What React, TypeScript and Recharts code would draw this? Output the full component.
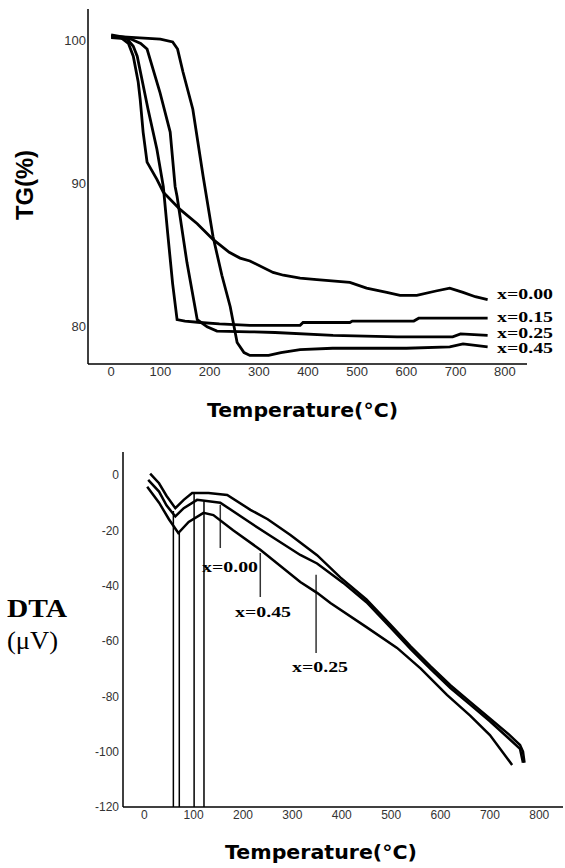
import { LineChart, Line, XAxis, YAxis, ReferenceLine } from 'recharts'

// TG curves (temperature °C, mass %)
const tg000T = [0, 20, 35, 45, 55, 59, 65, 73, 93, 106, 140, 175, 207, 240, 262, 282, 329, 350, 384, 418, 485, 519, 560, 587, 621, 660, 688, 715, 740, 765]
const tg000V = [100.3, 100.2, 99.8, 98.9, 97.1, 95.9, 93.6, 91.5, 90.3, 89.4, 88.2, 87.2, 86.1, 85.2, 84.8, 84.6, 83.8, 83.6, 83.4, 83.3, 83.1, 82.7, 82.4, 82.2, 82.2, 82.5, 82.7, 82.4, 82.1, 81.9]

const tg015T = [0, 30, 45, 53, 75, 93, 106, 115, 125, 134, 150, 181, 220, 282, 384, 390, 485, 490, 615, 625, 765]
const tg015V = [100.4, 100.2, 99.6, 98.9, 95.2, 92.4, 89.8, 86.5, 83, 80.5, 80.4, 80.3, 80.2, 80.1, 80.1, 80.3, 80.3, 80.4, 80.4, 80.6, 80.6]

const tg025T = [0, 40, 60, 73, 99, 120, 130, 134, 154, 175, 195, 215, 282, 333, 451, 581, 694, 710, 765]
const tg025V = [100.2, 100.1, 99.8, 99.4, 96.4, 93.6, 89.8, 89.1, 84.5, 80.5, 80.0, 79.7, 79.65, 79.6, 79.4, 79.3, 79.3, 79.5, 79.4]

const tg045T = [0, 50, 100, 125, 135, 146, 166, 187, 207, 225, 242, 256, 270, 282, 320, 345, 384, 450, 600, 688, 715, 765]
const tg045V = [100.3, 100.2, 100.1, 99.9, 99.4, 97.8, 95.2, 90.5, 86.3, 83.6, 81.4, 78.9, 78.2, 78.0, 78.0, 78.2, 78.4, 78.5, 78.5, 78.6, 78.8, 78.6]

// DTA curves (temperature °C, µV)
const dta000T = [12, 30, 45, 63, 80, 97, 130, 168, 215, 250, 296, 350, 397, 450, 498, 540, 579, 620, 660, 700, 740, 761, 767, 770]
const dta000V = [0.5, -3, -7.5, -12, -9, -6.5, -6.5, -7.2, -12.6, -16, -21.7, -29, -37, -45, -54, -62, -69, -76, -82, -88, -94, -97.6, -100, -104]

const dta045T = [8, 30, 45, 63, 80, 107, 154, 215, 260, 316, 350, 403, 450, 498, 540, 579, 620, 660, 700, 740, 761, 767]
const dta045V = [-1.8, -6, -11, -15, -12, -9, -10, -17.3, -22.5, -28.9, -32, -39, -46, -55, -63, -70, -77, -83, -89, -95.5, -99, -104]

const dta025T = [6, 30, 50, 69, 90, 120, 140, 180, 235, 316, 350, 377, 450, 512, 560, 613, 660, 700, 745]
const dta025V = [-4.3, -10, -16, -21, -17, -13.7, -14.5, -20, -27, -38.7, -42.6, -46.3, -55, -62.5, -70, -79.5, -87, -94, -104.8]

// peak markers and label pointers on the DTA plot
const peakT = [59, 71, 101, 121]
const peakV = [-13, -20.5, -6.3, -9.5]
const pointerT = [154, 235, 348]
const pointerTop = [-10.8, -28.2, -36.1]
const pointerBottom = [-26.4, -44.1, -64.3]

const tempTicks = [0, 100, 200, 300, 400, 500, 600, 700, 800]
const tgTicks = [80, 90, 100]
const dtaTicks = [-120, -100, -80, -60, -40, -20, 0]

const zip = (t: number[], v: number[]) => t.map((x, i) => ({ t: x, v: v[i] }))

const tgSeries = [
  { name: 'x=0.00', data: zip(tg000T, tg000V) },
  { name: 'x=0.15', data: zip(tg015T, tg015V) },
  { name: 'x=0.25', data: zip(tg025T, tg025V) },
  { name: 'x=0.45', data: zip(tg045T, tg045V) },
]
const dtaSeries = [
  { name: 'x=0.00', data: zip(dta000T, dta000V) },
  { name: 'x=0.45', data: zip(dta045T, dta045V) },
  { name: 'x=0.25', data: zip(dta025T, dta025V) },
]

const tickFont = { fontFamily: 'Liberation Sans, Arial, sans-serif', fill: '#333' }
const serifBold = { fontFamily: 'Liberation Serif, Times New Roman, serif', fontWeight: 700 }

export default function App() {
  return (
    <div style={{ position: 'absolute', left: 0, top: 0, width: 565, height: 868, background: '#fff' }}>
      <div style={{ position: 'absolute', left: 0, top: 0 }}>
        <LineChart width={565} height={430} margin={{ top: 9, right: 38, bottom: 36, left: 0 }}>
          <XAxis
            dataKey="t"
            type="number"
            domain={[-47, 845]}
            ticks={tempTicks}
            tickLine={false}
            tickSize={0}
            tickMargin={3}
            height={30}
            axisLine={{ stroke: '#000', strokeWidth: 1.5 }}
            tick={{ ...tickFont, fontSize: 13 }}
          />
          <YAxis
            type="number"
            domain={[77.4, 102.2]}
            ticks={tgTicks}
            tickLine={false}
            tickSize={0}
            tickMargin={2}
            width={88}
            axisLine={{ stroke: '#000', strokeWidth: 1.5 }}
            tick={{ ...tickFont, fontSize: 13 }}
          />
          {tgSeries.map((s) => (
            <Line
              key={s.name}
              data={s.data}
              dataKey="v"
              type="linear"
              stroke="#000"
              strokeWidth={2.8}
              dot={false}
              isAnimationActive={false}
            />
          ))}
        </LineChart>
      </div>
      <div style={{ position: 'absolute', left: 0, top: 430 }}>
        <LineChart width={565} height={438} margin={{ top: 22, right: 2, bottom: 31, left: 0 }}>
          <XAxis
            dataKey="t"
            type="number"
            domain={[-43, 848]}
            ticks={tempTicks}
            tickLine={false}
            tickSize={0}
            tickMargin={3}
            height={30}
            axisLine={{ stroke: '#000', strokeWidth: 1.5 }}
            tick={{ ...tickFont, fontSize: 12 }}
          />
          <YAxis
            type="number"
            domain={[-120, 8.3]}
            ticks={dtaTicks}
            tickLine={false}
            tickSize={0}
            tickMargin={4}
            width={123}
            axisLine={{ stroke: '#000', strokeWidth: 1.5 }}
            tick={{ ...tickFont, fontSize: 12 }}
          />
          {peakT.map((t, i) => (
            <ReferenceLine
              key={'p' + i}
              segment={[{ x: t, y: -120 }, { x: t, y: peakV[i] }]}
              stroke="#000"
              strokeWidth={1.5}
            />
          ))}
          {pointerT.map((t, i) => (
            <ReferenceLine
              key={'q' + i}
              segment={[{ x: t, y: pointerTop[i] }, { x: t, y: pointerBottom[i] }]}
              stroke="#333"
              strokeWidth={1.5}
            />
          ))}
          {dtaSeries.map((s) => (
            <Line
              key={s.name}
              data={s.data}
              dataKey="v"
              type="linear"
              stroke="#000"
              strokeWidth={2.5}
              dot={false}
              isAnimationActive={false}
            />
          ))}
        </LineChart>
      </div>
      <svg width={565} height={868} style={{ position: 'absolute', left: 0, top: 0, pointerEvents: 'none' }}>
        <text
          transform="translate(24,185) rotate(-90)"
          textAnchor="middle"
          dominantBaseline="central"
          fontFamily="Liberation Sans, Arial, sans-serif"
          fontWeight={700}
          fontSize={24}
          textLength={70}
          lengthAdjust="spacingAndGlyphs"
        >
          TG(%)
        </text>
        <text x={207} y={417} fontFamily="DejaVu Sans, sans-serif" fontWeight={700} fontSize={19} textLength={191} lengthAdjust="spacingAndGlyphs">
          Temperature(°C)
        </text>
        <text x={225} y={859} fontFamily="DejaVu Sans, sans-serif" fontWeight={700} fontSize={19} textLength={192} lengthAdjust="spacingAndGlyphs">
          Temperature(°C)
        </text>
        <text x={7} y={617} style={serifBold} fontSize={26} textLength={60} lengthAdjust="spacingAndGlyphs">
          DTA
        </text>
        <text x={7} y={649} fontFamily="Liberation Serif, Times New Roman, serif" fontSize={25} textLength={51} lengthAdjust="spacingAndGlyphs">
          (μV)
        </text>
        {[
          { s: 'x=0.00', x: 497, y: 294 },
          { s: 'x=0.15', x: 497, y: 317 },
          { s: 'x=0.25', x: 497, y: 333 },
          { s: 'x=0.45', x: 497, y: 348 },
          { s: 'x=0.00', x: 202, y: 567 },
          { s: 'x=0.45', x: 235, y: 612 },
          { s: 'x=0.25', x: 292, y: 667 },
        ].map((l, i) => (
          <text
            key={i}
            x={l.x}
            y={l.y}
            dominantBaseline="central"
            style={serifBold}
            fontSize={15}
            textLength={56}
            lengthAdjust="spacingAndGlyphs"
          >
            {l.s}
          </text>
        ))}
      </svg>
    </div>
  )
}
